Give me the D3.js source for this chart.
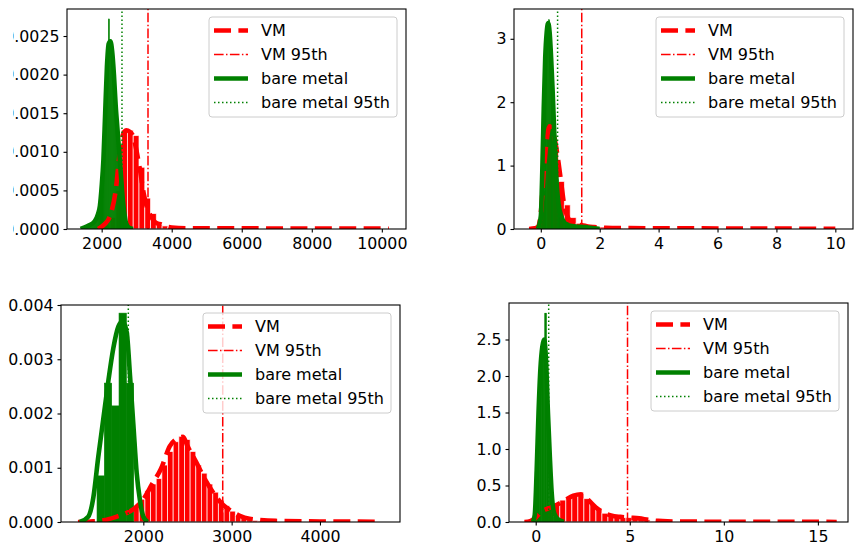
<!DOCTYPE html>
<html>
<head>
<meta charset="utf-8">
<script src="https://cdn.jsdelivr.net/npm/d3@7/dist/d3.min.js"></script>
<style>
  body { margin: 0; background: #fff; }
  text { font-family: "DejaVu Sans", sans-serif; }
</style>
</head>
<body>
<svg id="fig" width="854" height="545"></svg>
<script>
// ---------- data ----------
var legendLabels = ["VM", "VM 95th", "bare metal", "bare metal 95th"];

// top left
var p1XTicks = [2000, 4000, 6000, 8000, 10000];
var p1YTicks = [0, 0.0005, 0.001, 0.0015, 0.002, 0.0025];
var p1YLabels = ["0.0000", "0.0005", "0.0010", "0.0015", "0.0020", "0.0025"];
var p1VmStart = 1911, p1VmBin = 165;
var p1VmHist = [0.00002, 0.00005, 0.00015, 0.0005, 0.00128, 0.00128, 0.00121, 0.0008, 0.0004,
  0.0002, 0.00006, 0.00004, 0.00002, 0.00001, 0.00001, 0.000005, 0.000005];
var p1BmStart = 1470, p1BmBin = 30;
var p1BmHist = [0.00002, 0.00002, 0.00003, 0.00003, 0.00004, 0.00005, 0.00005, 0.00006, 0.00007,
  0.00009, 0.00011, 0.00013, 0.00015, 0.00018, 0.00022, 0.00028, 0.00036, 0.0005, 0.0007, 0.00095,
  0.00125, 0.0016, 0.0021, 0.00238, 0.00272, 0.00245, 0.00243, 0.00235, 0.0022, 0.002, 0.0018,
  0.00158, 0.0014, 0.0012, 0.001, 0.0008, 0.0006, 0.0004, 0.00025, 0.00014, 0.00006, 0.00002];
var p1VmKde = [[1900, 0], [2000, 0.00003], [2100, 0.00007], [2200, 0.00013], [2300, 0.00026],
  [2400, 0.0005], [2500, 0.00092], [2600, 0.00121], [2700, 0.00128], [2800, 0.00126], [2900, 0.0012],
  [3000, 0.001], [3100, 0.00075], [3200, 0.00046], [3300, 0.00027], [3400, 0.00017], [3500, 0.0001],
  [3600, 0.00007], [3700, 0.00006], [3800, 0.00004], [4000, 0.00002], [4500, 0.00001],
  [6000, 0.000008], [8000, 0.000006], [10200, 0.000004]];
var p1BmKde = [[1400, 0], [1600, 0.00004], [1800, 0.0001], [1900, 0.0002], [1950, 0.0003],
  [2000, 0.00055], [2050, 0.0009], [2100, 0.0015], [2150, 0.0021], [2200, 0.0024], [2250, 0.00243],
  [2300, 0.0023], [2350, 0.002], [2400, 0.0016], [2450, 0.0013], [2500, 0.001], [2550, 0.0007],
  [2600, 0.0004], [2650, 0.0002], [2700, 0.00007], [2800, 0.00001], [2900, 0]];
var p1Vm95 = 3323, p1Bm95 = 2580;

// top right
var p2XTicks = [0, 2, 4, 6, 8, 10];
var p2YTicks = [0, 1, 2, 3];
var p2YLabels = ["0", "1", "2", "3"];
var p2VmStart = -0.2, p2VmBin = 0.2;
var p2VmHist = [0.05, 0.6, 1.65, 1.3, 0.75, 0.38, 0.18, 0.09, 0.07, 0.05, 0.04, 0.03, 0.02, 0.02,
  0.015, 0.012, 0.01, 0.01, 0.008, 0.008, 0.006, 0.006, 0.005, 0.005];
var p2BmStart = -0.02, p2BmBin = 0.04;
var p2BmHist = [0.1, 0.6, 1.3, 2.0, 2.6, 3.0, 3.2, 3.3, 3.1, 2.8, 2.3, 1.9, 1.4, 1.0, 0.7, 0.45,
  0.3, 0.2, 0.15, 0.1, 0.08, 0.06, 0.05, 0.05, 0.04, 0.04, 0.04, 0.03, 0.03, 0.03, 0.03, 0.03,
  0.02, 0.02, 0.02, 0.02, 0.02, 0.02, 0.02, 0.02, 0.02, 0.01, 0.01, 0.01, 0.01];
var p2VmKde = [[-0.4, 0], [-0.2, 0.01], [-0.1, 0.03], [0, 0.25], [0.1, 0.9], [0.2, 1.4], [0.3, 1.62],
  [0.4, 1.55], [0.5, 1.35], [0.6, 1.05], [0.7, 0.7], [0.8, 0.36], [0.9, 0.2], [1.0, 0.13],
  [1.1, 0.09], [1.2, 0.07], [1.4, 0.06], [1.6, 0.04], [1.8, 0.03], [2.2, 0.02], [3, 0.015],
  [5, 0.01], [8, 0.006], [10, 0.003]];
var p2BmKde = [[-0.1, 0], [0, 0.2], [0.05, 0.9], [0.1, 1.9], [0.15, 2.7], [0.2, 3.1], [0.25, 3.25],
  [0.3, 3.1], [0.35, 2.7], [0.4, 2.2], [0.45, 1.6], [0.5, 1.05], [0.55, 0.65], [0.6, 0.4],
  [0.7, 0.2], [0.8, 0.1], [0.9, 0.07], [1.0, 0.05], [1.2, 0.04], [1.5, 0.03], [1.8, 0.01], [2.0, 0]];
var p2Vm95 = 1.39, p2Bm95 = 0.57;

// bottom left
var p3XTicks = [2000, 3000, 4000];
var p3YTicks = [0, 0.001, 0.002, 0.003, 0.004];
var p3YLabels = ["0.000", "0.001", "0.002", "0.003", "0.004"];
var p3VmStart = 1890, p3VmBin = 64;
var p3VmHist = [0.0003, 0.00042, 0.00058, 0.0007, 0.0008, 0.00105, 0.0013, 0.00148, 0.00158,
  0.00152, 0.0013, 0.00105, 0.0009, 0.0007, 0.00055, 0.0004, 0.0003, 0.0002, 0.00012, 0.00008,
  0.00004, 0.00003, 0.00002, 0.00001, 0.00001];
var p3BmStart = 1476, p3BmBin = 83;
var p3BmHist = [0.00085, 0.00256, 0.00214, 0.00385, 0.00256];
var p3VmKde = [[1260, 0], [1400, 0.00001], [1550, 0.00003], [1700, 0.0001], [1800, 0.00016],
  [1900, 0.00025], [2000, 0.00042], [2100, 0.0007], [2200, 0.00098], [2300, 0.0014],
  [2400, 0.00155], [2450, 0.00157], [2500, 0.0014], [2600, 0.0011], [2700, 0.00078],
  [2800, 0.00052], [2900, 0.00032], [3000, 0.0002], [3100, 0.00011], [3200, 0.00006],
  [3300, 0.00004], [3500, 0.00002], [4000, 0.00001], [4700, 0.000005]];
var p3BmKde = [[1280, 0], [1377, 0.0001], [1434, 0.00045], [1490, 0.0012], [1547, 0.0019],
  [1604, 0.0026], [1660, 0.0032], [1717, 0.0036], [1765, 0.0037], [1812, 0.0035], [1849, 0.0027],
  [1887, 0.0018], [1925, 0.0009], [1962, 0.0004], [2000, 0.0001], [2050, 0]];
var p3Vm95 = 2899, p3Bm95 = 1830;

// bottom right
var p4XTicks = [0, 5, 10, 15];
var p4YTicks = [0, 0.5, 1, 1.5, 2, 2.5];
var p4YLabels = ["0.0", "0.5", "1.0", "1.5", "2.0", "2.5"];
var p4VmStart = 0, p4VmBin = 0.32;
var p4VmHist = [0.12, 0.17, 0.2, 0.25, 0.3, 0.34, 0.37, 0.39, 0.32, 0.24, 0.17, 0.12, 0.09, 0.08,
  0.06, 0.06, 0.05, 0.04, 0.03, 0.01, 0.01, 0.005];
var p4BmStart = -0.06, p4BmBin = 0.09;
var p4BmHist = [0.1, 0.8, 1.6, 1.99, 2.36, 2.5, 2.86, 1.6, 0.9, 0.35, 0.12, 0.06, 0.04, 0.03, 0.02];
var p4VmKde = [[-0.6, 0], [-0.3, 0.01], [0, 0.06], [0.3, 0.14], [0.6, 0.18], [1.0, 0.22],
  [1.5, 0.29], [2.0, 0.36], [2.4, 0.38], [2.8, 0.3], [3.2, 0.2], [3.6, 0.13], [4.0, 0.09],
  [4.5, 0.07], [5.0, 0.06], [5.5, 0.05], [6.0, 0.03], [6.5, 0.015], [7, 0.008], [8, 0.005],
  [10, 0.004], [12, 0.003], [14, 0.002], [16, 0.001]];
var p4BmKde = [[-0.15, 0], [-0.05, 0.1], [0.05, 0.7], [0.15, 1.5], [0.25, 2.1], [0.35, 2.4],
  [0.45, 2.5], [0.55, 2.2], [0.65, 1.5], [0.75, 0.9], [0.85, 0.4], [0.95, 0.15], [1.1, 0.06],
  [1.3, 0.02], [1.5, 0]];
var p4Vm95 = 4.88, p4Bm95 = 0.69;

// ---------- layout ----------
var panels = [
  {box: [67, 9, 406, 229], xd: [1010, 10690], yd: [0, 0.00285], xt: p1XTicks, yt: p1YTicks, yl: p1YLabels,
   vm: [p1VmStart, p1VmBin, p1VmHist], bm: [p1BmStart, p1BmBin, p1BmHist], vmK: p1VmKde, bmK: p1BmKde,
   vm95: p1Vm95, bm95: p1Bm95, labelClip: 13},
  {box: [514, 9, 853, 229], xd: [-0.91, 10.6], yd: [0, 3.47], xt: p2XTicks, yt: p2YTicks, yl: p2YLabels,
   vm: [p2VmStart, p2VmBin, p2VmHist], bm: [p2BmStart, p2BmBin, p2BmHist], vmK: p2VmKde, bmK: p2BmKde,
   vm95: p2Vm95, bm95: p2Bm95},
  {box: [61, 305, 400, 522], xd: [1068, 4906], yd: [0, 0.004], xt: p3XTicks, yt: p3YTicks, yl: p3YLabels,
   vm: [p3VmStart, p3VmBin, p3VmHist], bm: [p3BmStart, p3BmBin, p3BmHist], vmK: p3VmKde, bmK: p3BmKde,
   vm95: p3Vm95, bm95: p3Bm95},
  {box: [509, 303, 848, 522], xd: [-1.42, 16.6], yd: [0, 3.0], xt: p4XTicks, yt: p4YTicks, yl: p4YLabels,
   vm: [p4VmStart, p4VmBin, p4VmHist], bm: [p4BmStart, p4BmBin, p4BmHist], vmK: p4VmKde, bmK: p4BmKde,
   vm95: p4Vm95, bm95: p4Bm95}
];

var RED = "#ff0000", GREEN = "#008000";
var styles = [
  {color: RED, width: 4.6, dash: "17,7.4"},
  {color: RED, width: 1.5, dash: "9.6,2.4,1.5,2.4"},
  {color: GREEN, width: 4.6, dash: null},
  {color: GREEN, width: 1.5, dash: "1.5,2.5"}
];

var svg = d3.select("#fig");
var defs = svg.append("defs");

panels.forEach(function(p, k) {
  var x = d3.scaleLinear().domain(p.xd).range([p.box[0], p.box[2]]);
  var y = d3.scaleLinear().domain(p.yd).range([p.box[3], p.box[1]]);

  defs.append("clipPath").attr("id", "clip" + k)
    .append("rect")
    .attr("x", p.box[0]).attr("y", p.box[1])
    .attr("width", p.box[2] - p.box[0]).attr("height", p.box[3] - p.box[1]);

  var g = svg.append("g").attr("clip-path", "url(#clip" + k + ")");

  function bars(spec, color, edge) {
    var start = spec[0], bw = spec[1];
    g.append("g").selectAll("rect")
      .data(spec[2])
      .enter().append("rect")
      .attr("x", function(d, i) { return x(start + i * bw); })
      .attr("width", function(d, i) { return x(start + (i + 1) * bw) - x(start + i * bw); })
      .attr("y", function(d) { return y(d); })
      .attr("height", function(d) { return y(0) - y(d); })
      .attr("fill", color)
      .attr("stroke", edge ? "#fff" : color)
      .attr("stroke-width", edge ? 0.9 : 0.6)
      .attr("stroke-opacity", edge ? 0.75 : 1);
  }
  // patches first (matplotlib zorder), then lines
  bars(p.vm, RED, true);
  bars(p.bm, GREEN, false);

  var line = d3.line()
    .x(function(d) { return x(d[0]); })
    .y(function(d) { return y(d[1]); })
    .curve(d3.curveMonotoneX);

  function styled(sel, s) {
    sel.attr("fill", "none").attr("stroke", s.color).attr("stroke-width", s.width);
    if (s.dash) sel.attr("stroke-dasharray", s.dash);
    return sel;
  }

  styled(g.append("path").datum(p.vmK).attr("d", line), styles[0]);
  styled(g.append("line").attr("x1", x(p.vm95)).attr("x2", x(p.vm95))
    .attr("y1", p.box[3]).attr("y2", p.box[1]), styles[1]);
  styled(g.append("path").datum(p.bmK).attr("d", line), styles[2]);
  styled(g.append("line").attr("x1", x(p.bm95)).attr("x2", x(p.bm95))
    .attr("y1", p.box[3]).attr("y2", p.box[1]), styles[3]);

  // frame
  svg.append("rect")
    .attr("x", p.box[0]).attr("y", p.box[1])
    .attr("width", p.box[2] - p.box[0]).attr("height", p.box[3] - p.box[1])
    .attr("fill", "none").attr("stroke", "#000").attr("stroke-width", 1.1);

  // axes
  var xa = svg.append("g")
    .attr("transform", "translate(0," + p.box[3] + ")")
    .call(d3.axisBottom(x).tickValues(p.xt).tickSize(3.5).tickPadding(5).tickFormat(d3.format("d")));
  var ya = svg.append("g")
    .attr("transform", "translate(" + p.box[0] + ",0)")
    .call(d3.axisLeft(y).tickValues(p.yt).tickSize(3.5).tickPadding(4)
      .tickFormat(function(d, i) { return p.yl[i]; }));
  [xa, ya].forEach(function(a) {
    a.select(".domain").remove();
    a.selectAll(".tick line").attr("stroke", "#000").attr("stroke-width", 1.1);
    a.selectAll(".tick text").attr("fill", "#000").style("font-size", "15.8px");
  });
  if (p.labelClip !== undefined) {
    defs.append("clipPath").attr("id", "lclip" + k)
      .append("rect").attr("x", p.labelClip - p.box[0]).attr("y", 0)
      .attr("width", p.box[0]).attr("height", 545);
    ya.attr("clip-path", "url(#lclip" + k + ")");
  }

  // legend
  var lw = 188, lh = 100;
  var lx = p.box[2] - 9 - lw, ly = p.box[1] + 8;
  var lg = svg.append("g").attr("transform", "translate(" + lx + "," + ly + ")");
  lg.append("rect").attr("width", lw).attr("height", lh).attr("rx", 3)
    .attr("fill", "#fff").attr("fill-opacity", 0.8)
    .attr("stroke", "#cccccc").attr("stroke-width", 1);
  legendLabels.forEach(function(lab, i) {
    var yy = 13.5 + 24 * i;
    styled(lg.append("line").attr("x1", 5).attr("x2", 39).attr("y1", yy).attr("y2", yy), styles[i]);
    lg.append("text").attr("x", 52).attr("y", yy).attr("dy", "0.36em")
      .style("font-size", "16px").attr("fill", "#000").text(lab);
  });
});
</script>
</body>
</html>
